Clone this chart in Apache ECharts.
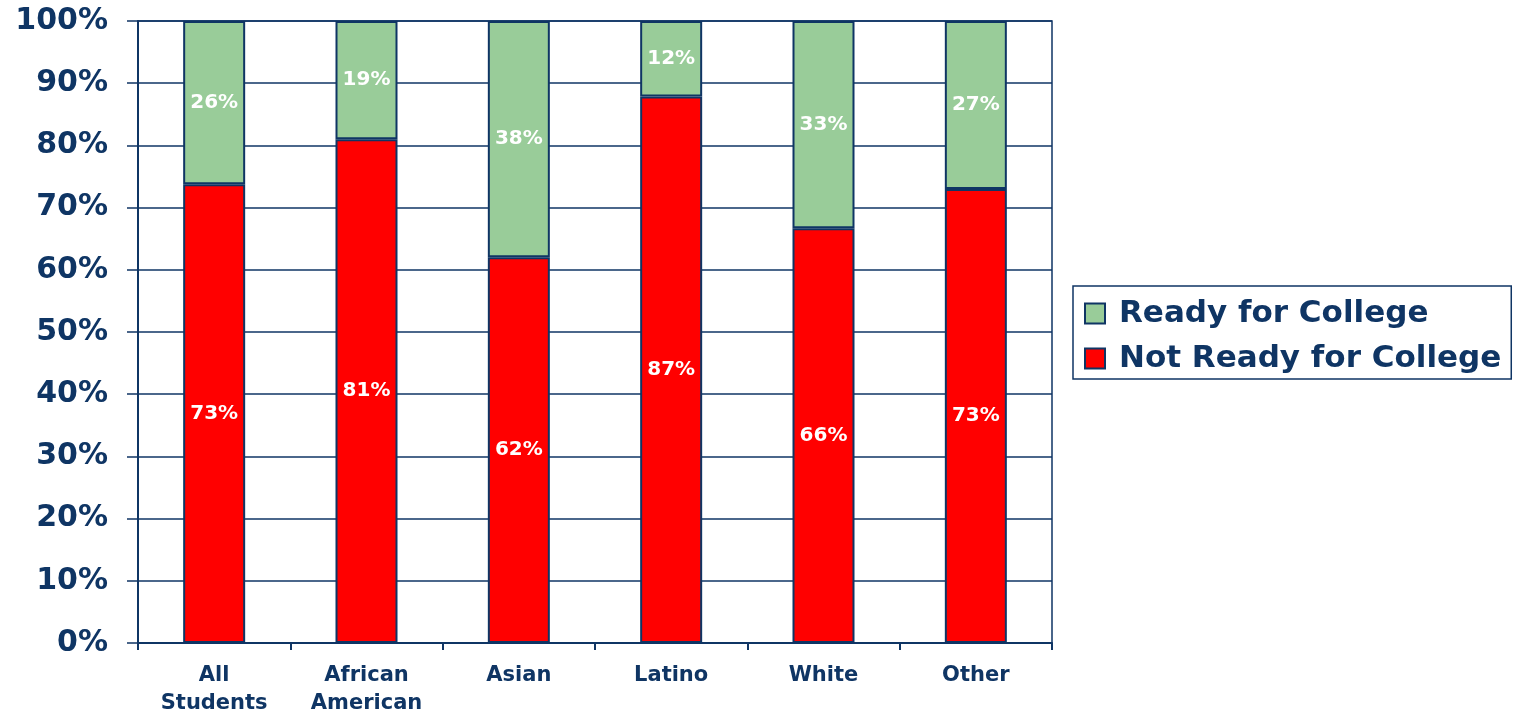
<!DOCTYPE html>
<html>
<head>
<meta charset="utf-8">
<script src="https://cdn.jsdelivr.net/npm/echarts@6/dist/echarts.min.js"></script>
<style>
html,body{margin:0;padding:0;background:#fff;}
#chart{width:1515px;height:715px;}
</style>
</head>
<body>
<div id="chart"></div>
<script>
const categories = ['All\nStudents', 'African\nAmerican', 'Asian', 'Latino', 'White', 'Other'];
const notReadyValues = [73, 81, 62, 87, 66, 73];
const readyValues = [26, 19, 38, 12, 33, 27];
const yTickLabels = ['0%','10%','20%','30%','40%','50%','60%','70%','80%','90%','100%'];

const NAVY = '#0f3564';
const FONT = 'DejaVu Sans';

// 100% stacked: share of each group's total
const totals = notReadyValues.map((v, i) => v + readyValues[i]);
const notReadyShare = notReadyValues.map((v, i) => v / totals[i] * 100);
const readyShare = readyValues.map((v, i) => v / totals[i] * 100);

const chart = echarts.init(document.getElementById('chart'), null, {renderer: 'canvas'});
const labelStyle = {
  show: true, position: 'inside', color: '#ffffff',
  fontFamily: FONT, fontWeight: 'bold', fontSize: 20
};
chart.setOption({
  animation: false,
  backgroundColor: '#ffffff',
  grid: {
    left: 138, right: 463, top: 21, bottom: 72,
    outerBoundsMode: 'none', containLabel: false,
    show: true, borderColor: NAVY, borderWidth: 1.5, backgroundColor: 'transparent'
  },
  legend: {
    data: ['Ready for College', 'Not Ready for College'],
    orient: 'vertical',
    left: 1073, top: 286,
    padding: [10, 10, 3, 11],
    borderColor: NAVY, borderWidth: 1.5,
    itemWidth: 20, itemHeight: 20, itemGap: 10,
    icon: 'rect',
    textStyle: {
      color: NAVY, fontFamily: FONT, fontWeight: 'bold', fontSize: 31,
      lineHeight: 35, padding: [0, 0, 0, 9]
    }
  },
  xAxis: {
    type: 'category',
    data: categories,
    axisLine: {lineStyle: {color: NAVY, width: 2}},
    axisTick: {show: true, length: 7, lineStyle: {color: NAVY, width: 2}},
    axisLabel: {
      color: NAVY, fontFamily: FONT, fontWeight: 'bold', fontSize: 21,
      lineHeight: 28, margin: 19, interval: 0
    },
    splitLine: {show: false}
  },
  yAxis: {
    type: 'value',
    min: 0, max: 100, interval: 10,
    axisLine: {show: true, lineStyle: {color: NAVY, width: 2}},
    axisTick: {show: true, length: 11, lineStyle: {color: NAVY, width: 1.5}},
    axisLabel: {
      color: NAVY, fontFamily: FONT, fontWeight: 'bold', fontSize: 30, margin: 30,
      formatter: (v) => yTickLabels[Math.round(v / 10)]
    },
    splitLine: {show: true, lineStyle: {color: NAVY, width: 1.5}}
  },
  series: [
    {
      name: 'Not Ready for College',
      type: 'bar', stack: 'total',
      barWidth: 62,
      data: notReadyShare,
      itemStyle: {color: '#ff0000', borderColor: NAVY, borderWidth: 2},
      label: Object.assign({}, labelStyle, {formatter: (p) => notReadyValues[p.dataIndex] + '%'})
    },
    {
      name: 'Ready for College',
      type: 'bar', stack: 'total',
      barWidth: 62,
      data: readyShare,
      itemStyle: {color: '#99cc99', borderColor: NAVY, borderWidth: 2},
      label: Object.assign({}, labelStyle, {formatter: (p) => readyValues[p.dataIndex] + '%'})
    }
  ]
});
</script>
</body>
</html>
